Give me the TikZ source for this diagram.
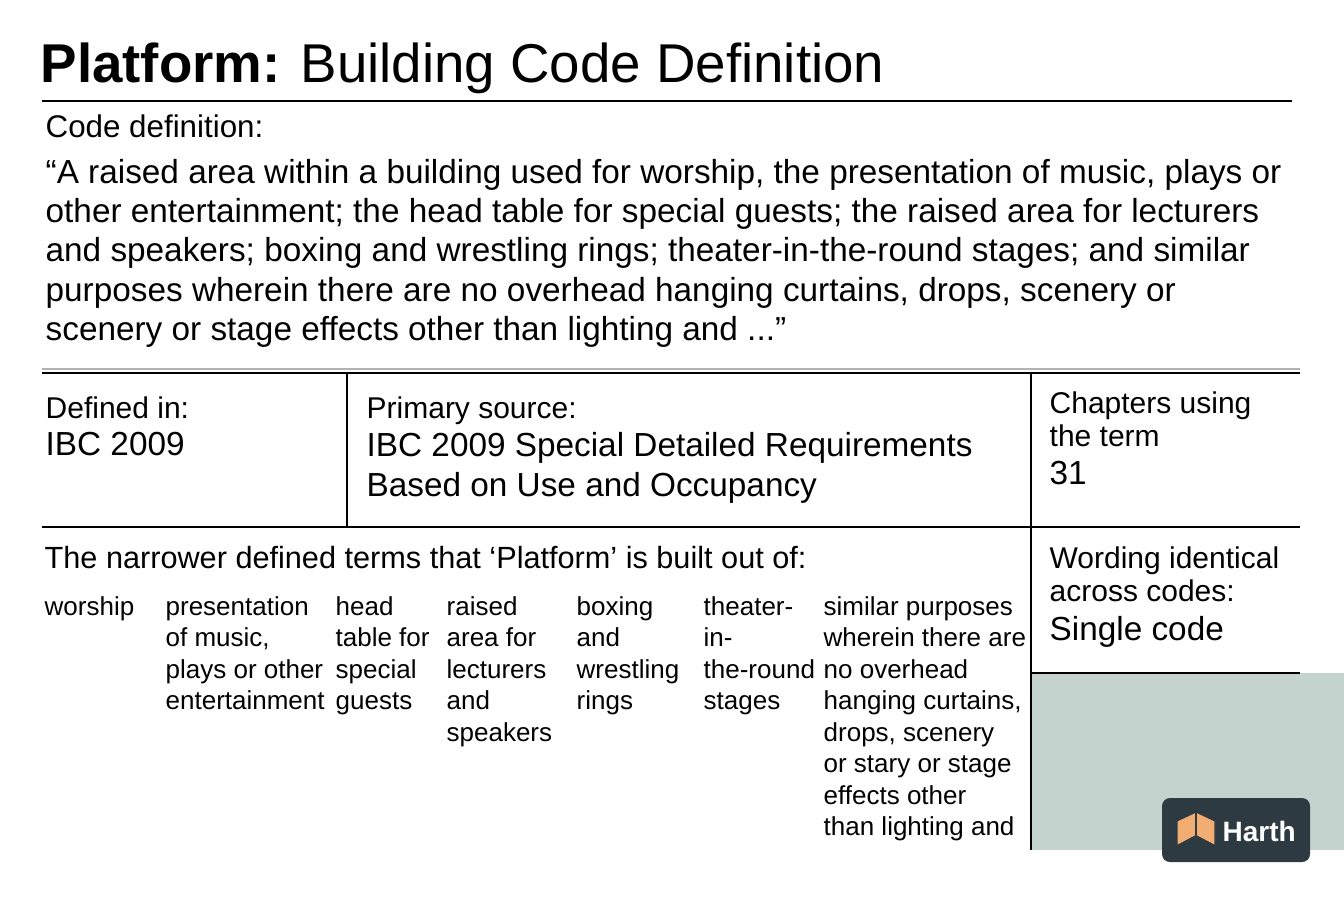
\documentclass[tikz,border=0pt]{standalone}
\usepackage{fontspec}
\setmainfont{Liberation Sans}
\definecolor{sage}{HTML}{C5D3CE}
\definecolor{badge}{HTML}{2E3A42}
\definecolor{peach}{HTML}{F2AE72}
\begin{document}
\begin{tikzpicture}[x=0.75pt, y=-0.75pt, line width=1pt,
  txt/.style={anchor=north west, align=left, inner sep=0pt},
  lbl/.style={txt, font=\fontsize{22.5}{25}\selectfont},
  big/.style={txt, font=\fontsize{25}{29.5}\selectfont},
  term/.style={txt, font=\fontsize{19.5}{23.6}\selectfont}]
\useasboundingbox (0,0) rectangle (1344,896);
% title
\node[anchor=base west, inner sep=0pt, font=\fontsize{41}{48}\selectfont] (title) at (40,82) {\textbf{Platform:} Building Code Definition};
\draw (42,101) -- (1292,101);
\node[txt, font=\fontsize{23.5}{27}\selectfont] (codelbl) at (45,114) {Code definition:};
\node[txt, font=\fontsize{25}{29.3}\selectfont] (quote) at (45,159) {``A raised area within a building used for worship, the presentation of music, plays or\\other entertainment; the head table for special guests; the raised area for lecturers\\and speakers; boxing and wrestling rings; theater-in-the-round stages; and similar\\purposes wherein there are no overhead hanging curtains, drops, scenery or\\scenery or stage effects other than lighting and ...''};
% grid
\draw[gray!60] (42,369) -- (1300,369);
\draw (42,373) -- (1300,373);
\draw (42,527) -- (1300,527);
\draw (347,373) -- (347,527);
\fill[sage] (1031,673) rectangle (1344,850);
\draw (1031,373) -- (1031,850);
\draw (1031,673) -- (1300,673);
% cells
\node[lbl] (deflbl) at (45,396) {Defined in:};
\node[big] (defval) at (45,432) {IBC 2009};
\node[lbl] (srclbl) at (366,396) {Primary source:};
\node[big] (srcval) at (366,432) {IBC 2009 Special Detailed Requirements\\Based on Use and Occupancy};
\node[lbl] (chaplbl) at (1049,391) {Chapters using\\the term};
\node[big] (chapval) at (1049,461) {31};
\node[lbl] (wordlbl) at (1049,546) {Wording identical\\across codes:};
\node[big] (wordval) at (1049,616) {Single code};
\node[txt, font=\fontsize{23}{26}\selectfont] (narrow) at (44,546) {The narrower defined terms that `Platform' is built out of:};
% terms
\node[term] (t1) at (44,596) {worship};
\node[term] (t2) at (165,596) {presentation\\of music,\\plays or other\\entertainment};
\node[term] (t3) at (335,596) {head\\table for\\special\\guests};
\node[term] (t4) at (446,596) {raised\\area for\\lecturers\\and\\speakers};
\node[term] (t5) at (576,596) {boxing\\and\\wrestling\\rings};
\node[term] (t6) at (703,596) {theater-\\in-\\the-round\\stages};
\node[term] (t7) at (823,596) {similar purposes\\wherein there are\\no overhead\\hanging curtains,\\drops, scenery\\or stary or stage\\effects other\\than lighting and};
% logo
\fill[badge, rounded corners=6pt] (1162,798) rectangle (1310,862);
\fill[peach, draw=badge, line width=0.8pt] (1196,812) -- (1177,821) -- (1177,846) -- (1196,836) -- (1215,846) -- (1215,821) -- cycle;
\draw[badge, line width=1.4pt] (1196,812) -- (1196,836) (1177,846) -- (1196,836) -- (1215,846);
\node[anchor=west, inner sep=0pt, text=white, font=\bfseries\fontsize{21}{24}\selectfont] (brand) at (1222,831) {Harth};
\end{tikzpicture}
\end{document}
